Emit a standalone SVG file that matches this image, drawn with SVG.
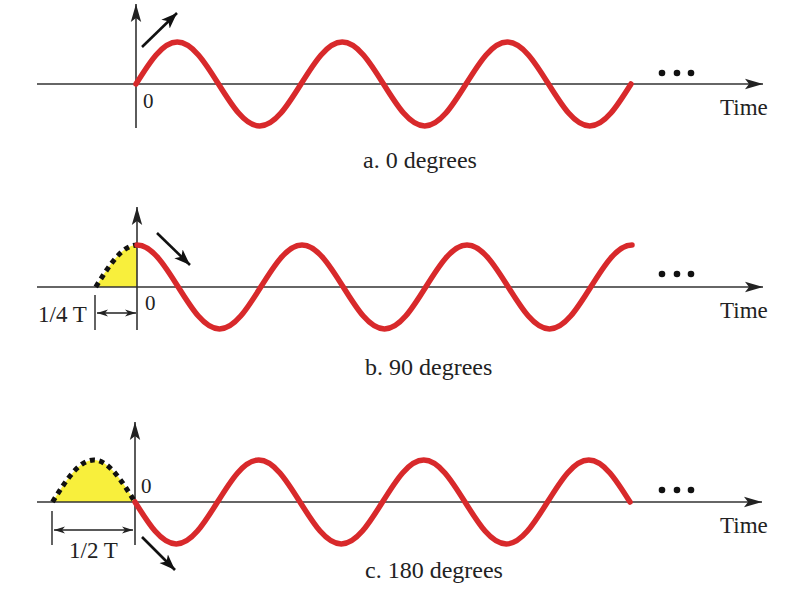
<svg xmlns="http://www.w3.org/2000/svg" width="791" height="603" viewBox="0 0 791 603">
<defs>
<style>
.bg{fill:#ffffff}
.axis{stroke:#333;stroke-width:1.6;fill:none}
.wave{stroke:#d8292b;stroke-width:5.5;fill:none;stroke-linecap:round;stroke-linejoin:round}
.fillq{fill:#f8ef3c;stroke:none}
.dots{fill:none;stroke:#111;stroke-width:5;stroke-dasharray:5 4.5}
.dir{stroke:#111;stroke-width:2.6;fill:none}
.dim{stroke:#222;stroke-width:1.4;fill:none}
.t{font-family:"Liberation Serif","Times New Roman",serif;fill:#222}
.dot{fill:#111}
</style>
<marker id="ah" markerWidth="20" markerHeight="12" refX="18" refY="6" orient="auto" markerUnits="userSpaceOnUse">
<path d="M0,0.8 L18,6 L0,11.2 L4,6 Z" fill="#222"/>
</marker>
<marker id="ahd" markerWidth="18" markerHeight="14" refX="16" refY="7" orient="auto" markerUnits="userSpaceOnUse">
<path d="M0,1 L16,7 L0,13 L4,7 Z" fill="#111"/>
</marker>
<marker id="ahs" markerWidth="12" markerHeight="8" refX="11" refY="4" orient="auto-start-reverse" markerUnits="userSpaceOnUse">
<path d="M0,0.5 L11,4 L0,7.5 L3,4 Z" fill="#222"/>
</marker>
</defs>
<rect class="bg" x="0" y="0" width="791" height="603"/>

<g id="panel-a">
<g id="connectors-a">
<line class="axis" x1="37" y1="84" x2="763" y2="84" marker-end="url(#ah)"/>
<line class="axis" x1="136" y1="128" x2="136" y2="4" marker-end="url(#ah)"/>
<line class="dir" x1="142" y1="47" x2="177" y2="13" marker-end="url(#ahd)"/>
</g>
<path id="wave-a" class="wave" d="M136,84 c13.45,-21.52 26.32,-42 41.25,-42 s27.8,20.48 41.25,42 s26.32,42 41.25,42 s27.8,-20.48 41.25,-42 s26.32,-42 41.25,-42 s27.8,20.48 41.25,42 s26.32,42 41.25,42 s27.8,-20.48 41.25,-42 s26.32,-42 41.25,-42 s27.8,20.48 41.25,42 s26.32,42 41.25,42 s27.8,-20.48 41.25,-42"/>
<text class="t" x="143" y="108" font-size="21">0</text>
<circle class="dot" cx="662" cy="73" r="3.3"/>
<circle class="dot" cx="677" cy="73" r="3.3"/>
<circle class="dot" cx="691" cy="73" r="3.3"/>
<text class="t" x="720" y="115" font-size="23">Time</text>
<text class="t" x="363" y="168" font-size="24">a. 0 degrees</text>
</g>

<g id="panel-b">
<path class="fillq" d="M95.75,287 c13.45,-21.52 26.32,-42 41.25,-42 L137,287 Z"/>
<g id="connectors-b">
<line class="axis" x1="37" y1="287" x2="763" y2="287" marker-end="url(#ah)"/>
<line class="axis" x1="137" y1="330" x2="137" y2="207" marker-end="url(#ah)"/>
<line class="dir" x1="157" y1="233" x2="190" y2="265" marker-end="url(#ahd)"/>
<line class="dim" x1="95" y1="295" x2="95" y2="330"/>
<line class="dim" x1="97" y1="313" x2="136" y2="313" marker-start="url(#ahs)" marker-end="url(#ahs)"/>
</g>
<path class="dots" d="M95.75,287 c13.45,-21.52 26.32,-42 41.25,-42"/>
<path id="wave-b" class="wave" d="M137,245 c14.93,0 27.8,20.48 41.25,42 s26.32,42 41.25,42 s27.8,-20.48 41.25,-42 s26.32,-42 41.25,-42 s27.8,20.48 41.25,42 s26.32,42 41.25,42 s27.8,-20.48 41.25,-42 s26.32,-42 41.25,-42 s27.8,20.48 41.25,42 s26.32,42 41.25,42 s27.8,-20.48 41.25,-42 s26.32,-42 41.25,-42"/>
<text class="t" x="145" y="310" font-size="21">0</text>
<text class="t" x="38" y="322" font-size="23">1/4 T</text>
<circle class="dot" cx="662" cy="274" r="3.3"/>
<circle class="dot" cx="677" cy="274" r="3.3"/>
<circle class="dot" cx="691" cy="274" r="3.3"/>
<text class="t" x="720" y="318" font-size="23">Time</text>
<text class="t" x="365" y="375" font-size="24">b. 90 degrees</text>
</g>

<g id="panel-c">
<path class="fillq" d="M52.5,502 c13.45,-21.52 26.32,-42 41.25,-42 s27.8,20.48 41.25,42 Z"/>
<g id="connectors-c">
<line class="axis" x1="37" y1="502" x2="762" y2="502" marker-end="url(#ah)"/>
<line class="axis" x1="135" y1="545" x2="135" y2="422" marker-end="url(#ah)"/>
<line class="dir" x1="142" y1="537" x2="175" y2="570" marker-end="url(#ahd)"/>
<line class="dim" x1="52" y1="511" x2="52" y2="545"/>
<line class="dim" x1="54" y1="530" x2="133" y2="530" marker-start="url(#ahs)" marker-end="url(#ahs)"/>
</g>
<path class="dots" d="M52.5,502 c13.45,-21.52 26.32,-42 41.25,-42 s27.8,20.48 41.25,42"/>
<path id="wave-c" class="wave" d="M135,502 c13.45,21.52 26.32,42 41.25,42 s27.8,-20.48 41.25,-42 s26.32,-42 41.25,-42 s27.8,20.48 41.25,42 s26.32,42 41.25,42 s27.8,-20.48 41.25,-42 s26.32,-42 41.25,-42 s27.8,20.48 41.25,42 s26.32,42 41.25,42 s27.8,-20.48 41.25,-42 s26.32,-42 41.25,-42 s27.8,20.48 41.25,42"/>
<text class="t" x="141" y="493" font-size="21">0</text>
<text class="t" x="69" y="558" font-size="23">1/2 T</text>
<circle class="dot" cx="662" cy="490" r="3.3"/>
<circle class="dot" cx="677" cy="490" r="3.3"/>
<circle class="dot" cx="691" cy="490" r="3.3"/>
<text class="t" x="720" y="533" font-size="23">Time</text>
<text class="t" x="365" y="578" font-size="24">c. 180 degrees</text>
</g>
</svg>
